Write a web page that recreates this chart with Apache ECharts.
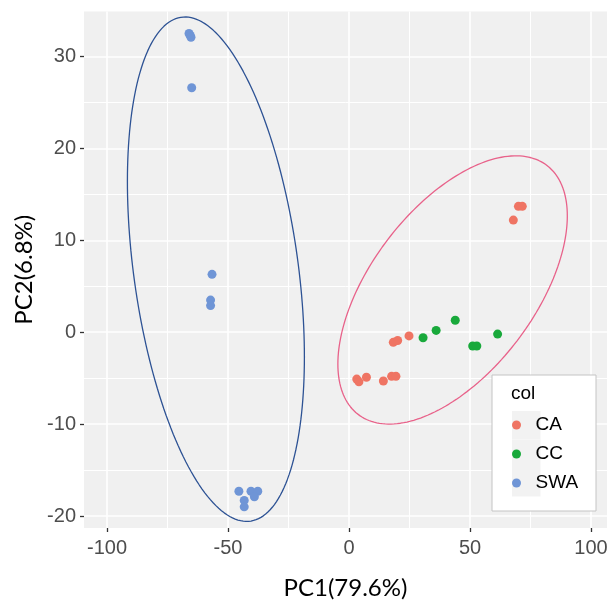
<!DOCTYPE html>
<html>
<head>
<meta charset="utf-8">
<script src="https://cdn.jsdelivr.net/npm/echarts@6/dist/echarts.min.js"></script>
<style>
html,body{margin:0;padding:0;background:#fff;}
#chart{width:607px;height:603px;}
</style>
</head>
<body>
<div id="chart"></div>
<script>
// ---- data ----
const categories = ['CA', 'CC', 'SWA'];
const caPC1 = [3.2, 4.1, 7.2, 14.2, 17.6, 19.4, 18.3, 20.1, 24.8, 67.9, 70.0, 71.6];
const caPC2 = [-5.1, -5.4, -4.9, -5.3, -4.8, -4.8, -1.1, -0.9, -0.4, 12.2, 13.7, 13.7];
const ccPC1 = [30.6, 36.0, 43.9, 51.1, 52.8, 61.4];
const ccPC2 = [-0.6, 0.2, 1.3, -1.5, -1.5, -0.2];
const swaPC1 = [-66.1, -65.6, -65.3, -65.0, -56.6, -57.2, -57.2, -45.5, -40.5, -37.7, -39.1, -43.3, -43.3];
const swaPC2 = [32.5, 32.3, 32.1, 26.6, 6.3, 3.5, 2.9, -17.3, -17.3, -17.3, -17.9, -18.3, -19.0];
const xTicks = [-100, -50, 0, 50, 100];
const yTicks = [-20, -10, 0, 10, 20, 30];
const xMinor = [-75, -25, 25, 75];
const yMinor = [-15, -5, 5, 15, 25];
// confidence ellipses (centre and covariance-like shape, data units)
const ellipseSWA = { cx: -55.0, cy: 6.86, vxx: 1337, vyy: 753, vxy: -349 };
const ellipseCA = { cx: 42.8, cy: 4.6, vxx: 2247, vyy: 213, vxy: 382 };

const colors = { CA: '#EF7463', CC: '#19A93B', SWA: '#6F95D6' };

function ellipsePath(e) {
  const l11 = Math.sqrt(e.vxx);
  const l21 = e.vxy / l11;
  const l22 = Math.sqrt(e.vyy - l21 * l21);
  const pts = [];
  for (let i = 0; i <= 200; i++) {
    const t = 2 * Math.PI * i / 200;
    pts.push([e.cx + l11 * Math.cos(t), e.cy + l21 * Math.cos(t) + l22 * Math.sin(t)]);
  }
  return pts;
}
const zip = (a, b) => a.map((v, i) => [v, b[i]]);

const chart = echarts.init(document.getElementById('chart'));
const sansFont = "'Liberation Sans', Arial, sans-serif";
const tickFont = { fontFamily: sansFont, fontSize: 20, color: '#4D4D4D' };

const gridLines = [].concat(
  xTicks.map(v => ({ xAxis: v, lineStyle: { width: 1.6 } })),
  xMinor.map(v => ({ xAxis: v, lineStyle: { width: 1.0 } })),
  yTicks.map(v => ({ yAxis: v, lineStyle: { width: 1.6 } })),
  yMinor.map(v => ({ yAxis: v, lineStyle: { width: 1.0 } }))
);

chart.setOption({
  animation: false,
  grid: { left: 84, right: 0, top: 11.5, bottom: 75, containLabel: false, outerBoundsMode: 'none',
    show: true, backgroundColor: '#F0F0F0', borderWidth: 0 },
  xAxis: {
    type: 'value', min: -109.5, max: 106.6,
    name: 'PC1(79.6%)', nameLocation: 'middle', nameGap: 48,
    nameTextStyle: { fontFamily: 'Lato', fontSize: 24, color: '#000' },
    axisLine: { show: false, onZero: false },
    axisTick: { show: true, length: 4, lineStyle: { color: '#333', width: 1.3 }, customValues: xTicks },
    axisLabel: Object.assign({ margin: 10, customValues: xTicks }, tickFont),
    splitLine: { show: false }
  },
  yAxis: {
    type: 'value', min: -21.3, max: 34.9,
    name: 'PC2(6.8%)', nameLocation: 'middle', nameGap: 47, nameRotate: 90,
    nameTextStyle: { fontFamily: 'Lato', fontSize: 24, color: '#000' },
    axisLine: { show: false, onZero: false },
    axisTick: { show: true, length: 4, lineStyle: { color: '#333', width: 1.3 }, customValues: yTicks },
    axisLabel: Object.assign({ margin: 8, customValues: yTicks }, tickFont),
    splitLine: { show: false }
  },
  legend: {
    data: categories, orient: 'vertical', left: 512, top: 415, padding: 0,
    itemWidth: 28, itemHeight: 9, itemGap: 9, icon: 'circle', z: 120,
    textStyle: { fontFamily: sansFont, fontSize: 19, lineHeight: 20, color: '#000', padding: [0, 0, 0, 0] },
    selectedMode: false
  },
  graphic: [
    { type: 'rect', shape: { x: 492, y: 375, width: 104, height: 136 }, style: { fill: '#fff', stroke: '#C4C4C4', lineWidth: 1 }, z: 100 },
    { type: 'rect', shape: { x: 512, y: 411, width: 28.5, height: 28.5 }, style: { fill: '#F2F2F2' }, z: 101 },
    { type: 'rect', shape: { x: 512, y: 439.5, width: 28.5, height: 28.5 }, style: { fill: '#F2F2F2' }, z: 101 },
    { type: 'rect', shape: { x: 512, y: 468, width: 28.5, height: 28.5 }, style: { fill: '#F2F2F2' }, z: 101 },
    { type: 'text', x: 511, y: 394, style: { text: 'col', fontFamily: sansFont, fontSize: 19, fill: '#000', textVerticalAlign: 'middle' }, z: 101 }
  ],
  series: [
    { type: 'line', data: [], silent: true, z: 1,
      markLine: { silent: true, symbol: ['none', 'none'], label: { show: false }, z: 1,
        lineStyle: { color: '#FFFFFF', type: 'solid' }, emphasis: { disabled: true }, data: gridLines } },
    { name: 'SWA ellipse', type: 'line', data: ellipsePath(ellipseSWA), showSymbol: false, silent: true, z: 2,
      lineStyle: { color: '#2D5294', width: 1.3 } },
    { name: 'CA ellipse', type: 'line', data: ellipsePath(ellipseCA), showSymbol: false, silent: true, z: 2,
      lineStyle: { color: '#E8628A', width: 1.3 } },
    { name: 'CA', type: 'scatter', data: zip(caPC1, caPC2), symbolSize: 9, z: 3, itemStyle: { color: colors.CA, opacity: 1 } },
    { name: 'CC', type: 'scatter', data: zip(ccPC1, ccPC2), symbolSize: 9, z: 3, itemStyle: { color: colors.CC, opacity: 1 } },
    { name: 'SWA', type: 'scatter', data: zip(swaPC1, swaPC2), symbolSize: 9, z: 3, itemStyle: { color: colors.SWA, opacity: 1 } }
  ]
});
</script>
</body>
</html>
